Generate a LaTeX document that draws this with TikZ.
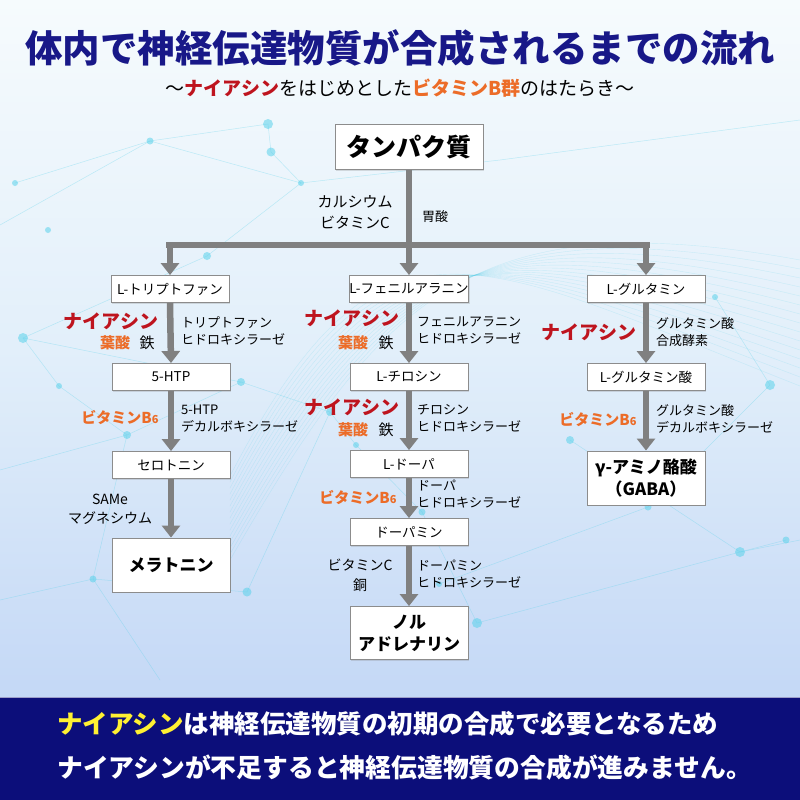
\documentclass[tikz,border=0pt]{standalone}
\usepackage{fontspec}
\setmainfont{Noto Sans CJK JP}
\usetikzlibrary{arrows.meta,shadows}
\definecolor{navy}{RGB}{24,24,136}
\definecolor{band}{RGB}{12,14,122}
\definecolor{nred}{RGB}{190,20,30}
\definecolor{vorange}{RGB}{236,108,40}
\definecolor{ylw}{RGB}{255,240,50}
\definecolor{arrowgray}{RGB}{128,128,128}
\definecolor{boxline}{RGB}{140,140,140}
\definecolor{deco}{RGB}{90,210,235}
\newcommand{\fs}[2]{\fontsize{#1}{#2}\selectfont}
\newcommand{\bsix}{B{\fs{11}{11}6}}
\tikzset{
  box/.style={draw=boxline, line width=0.9pt, fill=white, minimum width=118pt, minimum height=27pt, inner sep=0pt, font=\fs{13.5}{16}, drop shadow={shadow xshift=1.2pt, shadow yshift=-1.2pt, opacity=0.25}},
  bigbox/.style={box, font=\bfseries\fs{17}{22}, align=center},
  flow/.style={draw=arrowgray, line width=6.5pt, -{Triangle[width=18pt,length=12pt]}},
  stem/.style={draw=arrowgray, line width=6.5pt},
  nia/.style={text=nred, font=\bfseries\fs{19}{22}, inner sep=0pt},
  vit/.style={text=vorange, font=\bfseries\fs{15}{18}, inner sep=0pt},
  plain/.style={font=\fs{15}{18}, inner sep=0pt},
  enz/.style={font=\fs{13}{17}, align=left, anchor=west, inner sep=0pt},
  dot/.style={fill=deco, opacity=0.55},
  web/.style={draw=deco, opacity=0.35, line width=0.5pt}
}
\begin{document}
\begin{tikzpicture}[x=1pt,y=-1pt]
\useasboundingbox (0,0) rectangle (800,800);
% background
\shade[top color={rgb,255:red,246;green,251;blue,253}, bottom color={rgb,255:red,196;green,216;blue,246}, middle color={rgb,255:red,226;green,239;blue,250}] (0,0) rectangle (800,697);
% decorative web
\draw[web] (150,141) -- (268,124) -- (271,152) -- (301,183) -- (207,256) -- (23,338);
\draw[web] (0,225) -- (150,141) -- (301,183) -- (500,160) -- (800,120);
\draw[web] (23,338) -- (59,386) -- (127,435) -- (93,579) -- (247,592);
\draw[web] (241,382) -- (127,435) -- (0,470);
\draw[web] (23,338) -- (241,382) -- (330,412) -- (356,445);
\draw[web] (356,445) -- (422,512) -- (477,623) -- (740,552) -- (800,540);
\draw[web] (439,584) -- (648,507) -- (770,385) -- (715,297);
\draw[web] (570,440) -- (740,552) -- (786,540);
\draw[web] (0,600) -- (93,579) -- (160,680);
\draw[web] (247,592) -- (330,412);
\draw[web] (15,183) -- (150,141);
\foreach \p/\r in {(150,141)/3.5,(268,124)/5,(271,152)/4.5,(301,183)/3,(207,256)/4,(15,183)/3,(23,338)/5,(59,386)/3,(241,382)/4,(127,435)/4,(93,579)/3.5,(247,592)/4.5,(330,412)/4,(356,445)/3,(422,512)/3.5,(477,623)/5,(439,584)/3,(740,552)/5,(786,540)/3.5,(770,385)/5,(715,297)/3,(648,507)/3.5,(570,440)/4,(48,230)/3}
  \fill[dot] \p circle (\r);
% mesh waves
\foreach \k in {0,...,14}
  \draw[draw=deco, opacity=0.22, line width=0.4pt] (230,560-6*\k) .. controls (380,300-8*\k) and (470,200+4*\k) .. (800,260+9*\k);
% bottom band
\fill[band] (0,697) rectangle (800,800);
\draw[white, opacity=0.6, line width=1pt] (0,697) -- (800,697);
% title
\node[text=navy, font=\bfseries\fs{37.5}{40}, inner sep=0pt] (title) at (400,48) {体内で神経伝達物質が合成されるまでの流れ};
\node[font=\fs{19}{22}, inner sep=0pt] (subtitle) at (400,88) {～{\bfseries\color{nred}ナイアシン}をはじめとした{\bfseries\color{vorange}ビタミンB群}のはたらき～};
% boxes
\node[box, minimum width=148pt, minimum height=45pt, font=\bfseries\fs{25}{28}] (tanpaku) at (409,147) {タンパク質};
\node[box] (trp) at (170,289) {L-トリプトファン};
\node[box] (phe) at (409,289) {L-フェニルアラニン};
\node[box] (gln) at (646,289) {L-グルタミン};
\node[box] (htp) at (171,377) {5-HTP};
\node[box] (ser) at (171,465) {セロトニン};
\node[bigbox, minimum height=54pt] (mel) at (171,565) {メラトニン};
\node[box] (tyr) at (409,377) {L-チロシン};
\node[box] (dopa) at (409,464) {L-ドーパ};
\node[box] (dopamine) at (409,532) {ドーパミン};
\node[bigbox, minimum height=53pt] (nor) at (409,633) {ノル\\アドレナリン};
\node[box] (glu) at (646,377) {L-グルタミン酸};
\node[bigbox, minimum height=54pt] (gaba) at (646,478) {γ-アミノ酪酸\\（GABA）};
% tree connectors
\coordinate (bar) at (409,245);
\coordinate (barL) at (166,245);
\coordinate (barR) at (650,245);
\draw[stem] (tanpaku.south) -- (bar);
\draw[stem] (barL) -- (barR);
\draw[flow] (trp.north |- bar) -- (trp.north);
\draw[flow] (bar) -- (phe.north);
\draw[flow] (gln.north |- bar) -- (gln.north);
% column arrows
\draw[flow] (trp.south) -- (htp.north);
\draw[flow] (htp.south) -- (ser.north);
\draw[flow] (ser.south) -- (mel.north);
\draw[flow] (phe.south) -- (tyr.north);
\draw[flow] (tyr.south) -- (dopa.north);
\draw[flow] (dopa.south) -- (dopamine.north);
\draw[flow] (dopamine.south) -- (nor.north);
\draw[flow] (gln.south) -- (glu.north);
\draw[flow] (glu.south) -- (gaba.north);
% top labels
\node[font=\fs{15}{21}, align=center, inner sep=0pt] (calc) at (355,212) {カルシウム\\ビタミンC};
\node[font=\fs{13}{16}, inner sep=0pt] (isan) at (435,217) {胃酸};
% left column labels
\node[nia] (nia1) at (111,321) {ナイアシン};
\node[vit] (yo1) at (115,343) {葉酸};
\node[plain] (fe1) at (147,343) {鉄};
\node[enz] (enz1) at (181,331) {トリプトファン\\ヒドロキシラーゼ};
\node[vit] (b6a) at (120,418) {ビタミン\bsix};
\node[enz] (enz2) at (181,419) {5-HTP\\デカルボキシラーゼ};
\node[font=\fs{14}{19}, align=center, inner sep=0pt] (same) at (110,509) {SAMe\\マグネシウム};
% middle column labels
\node[nia] (nia2) at (352,318) {ナイアシン};
\node[vit] (yo2) at (353,343) {葉酸};
\node[plain] (fe2) at (386,343) {鉄};
\node[enz] (enz3) at (417,330) {フェニルアラニン\\ヒドロキシラーゼ};
\node[nia] (nia3) at (352,407) {ナイアシン};
\node[vit] (yo3) at (353,430) {葉酸};
\node[plain] (fe3) at (386,430) {鉄};
\node[enz] (enz4) at (417,418) {チロシン\\ヒドロキシラーゼ};
\node[vit] (b6b) at (358,498) {ビタミン\bsix};
\node[enz] (enz5) at (417,494) {ドーパ\\ヒドロキシラーゼ};
\node[font=\fs{14}{20}, align=center, inner sep=0pt] (vitc) at (360,575) {ビタミンC\\銅};
\node[enz] (enz6) at (417,574) {ドーパミン\\ヒドロキシラーゼ};
% right column labels
\node[nia] (nia4) at (589,332) {ナイアシン};
\node[enz] (enz7) at (656,332) {グルタミン酸\\合成酵素};
\node[vit] (b6c) at (598,420) {ビタミン\bsix};
\node[enz] (enz8) at (656,419) {グルタミン酸\\デカルボキシラーゼ};
% bottom text
\node[anchor=west, text=white, font=\bfseries\fs{25.5}{28}, inner sep=0pt] (msg1) at (57,724) {{\color{ylw}ナイアシン}は神経伝達物質の初期の合成で必要となるため};
\node[anchor=west, text=white, font=\bfseries\fs{25.8}{28}, inner sep=0pt] (msg2) at (57,768) {ナイアシンが不足すると神経伝達物質の合成が進みません。};
\end{tikzpicture}
\end{document}
